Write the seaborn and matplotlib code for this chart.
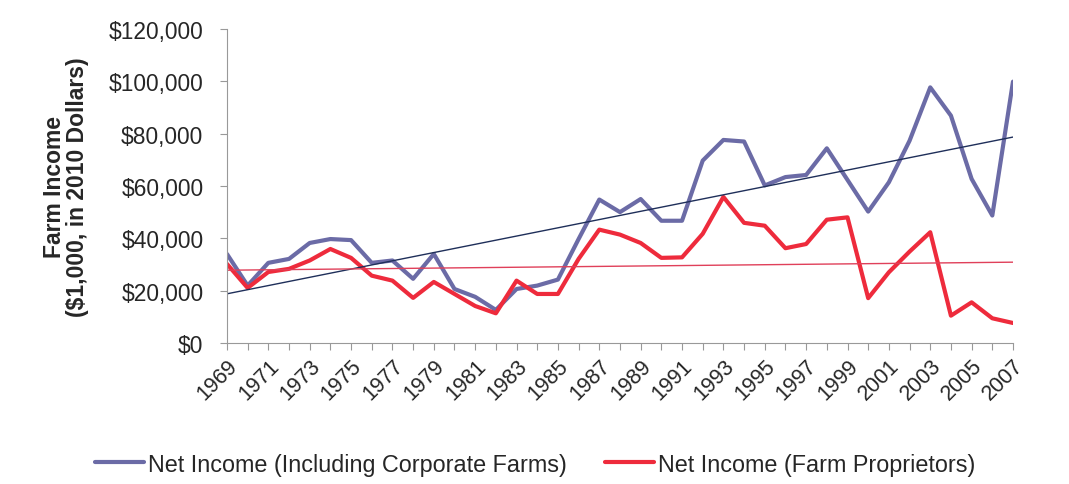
import numpy as np
import pandas as pd
import matplotlib.pyplot as plt
import seaborn as sns

years = list(range(1969, 2008))

# net income including corporate farms ($1,000, 2010 dollars)
corporate = [34000, 21900, 30600, 32100, 38200, 39700, 39300, 30600, 31500, 24500,
             34000, 20600, 17600, 12600, 20600, 21900, 24200, 39700, 54800, 50000,
             55000, 46700, 46700, 69700, 77600, 77000, 60200, 63400, 64200, 74400,
             62300, 50200, 61400, 77300, 97700, 86900, 62700, 48700, 99900]

# net income of farm proprietors
proprietors = [30200, 21000, 27100, 28300, 31500, 35900, 32500, 25700, 23800, 17200,
               23300, 18700, 14100, 11300, 23800, 18700, 18700, 32100, 43300, 41400,
               38200, 32500, 32700, 41700, 55800, 45900, 44800, 36200, 37800, 47100,
               48000, 17100, 27000, 34900, 42300, 10400, 15500, 9400, 7600]

series_names = ["Net Income (Including Corporate Farms)", "Net Income (Farm Proprietors)"]
series_colors = ["#6b6ba6", "#ee2b3c"]
trend_colors = ["#1f2f5a", "#e0405a"]

df = pd.DataFrame({
    "year": years * 2,
    "income": corporate + proprietors,
    "series": [series_names[0]] * len(years) + [series_names[1]] * len(years),
})

sns.set_style("white")
plt.rcParams["font.family"] = ["Liberation Sans", "DejaVu Sans"]

fig = plt.figure(figsize=(10.69, 4.85), dpi=100)
ax = fig.add_axes([0.2123, 0.291, 0.7353, 0.647])

sns.lineplot(data=df, x="year", y="income", hue="series", palette=series_colors,
             linewidth=3, ax=ax, legend=True)

# linear trend lines
for vals, col in zip([corporate, proprietors], trend_colors):
    k, b = np.polyfit(years, vals, 1)
    xs = np.array([years[0], years[-1]])
    ax.plot(xs, k * xs + b, color=col, linewidth=1)

ax.set_xlim(years[0], years[-1])
ax.set_ylim(0, 120000)
ax.set_yticks(range(0, 120001, 20000))
ax.set_yticklabels(["${:,}".format(v) for v in range(0, 120001, 20000)], fontsize=16.4)
ax.set_xticks(years)
ax.set_xticklabels([str(y) if (y - 1969) % 2 == 0 else "" for y in years],
                   rotation=45, ha="right", rotation_mode="anchor", fontsize=15.5)
ax.set_xlabel("")
ax.set_ylabel("Farm Income\n($1,000, in 2010 Dollars)", fontsize=16.5, fontweight="bold",
              linespacing=1.0)
ax.yaxis.set_label_coords(-0.176, 0.5)

for s in ["top", "right"]:
    ax.spines[s].set_visible(False)
for s in ["left", "bottom"]:
    ax.spines[s].set_color("#999999")
ax.tick_params(axis="both", direction="out", length=5, color="#999999", left=True, bottom=True)
ax.tick_params(axis="y", pad=12)

handles, labels = ax.get_legend_handles_labels()
ax.get_legend().remove()
fig.legend(handles[:2], labels[:2], loc="center", bbox_to_anchor=(0.5005, 0.041),
           ncol=2, frameon=False, fontsize=16.8, handlelength=2.1, handletextpad=0.17,
           columnspacing=1.65)

fig.savefig("out.png", dpi=100)
